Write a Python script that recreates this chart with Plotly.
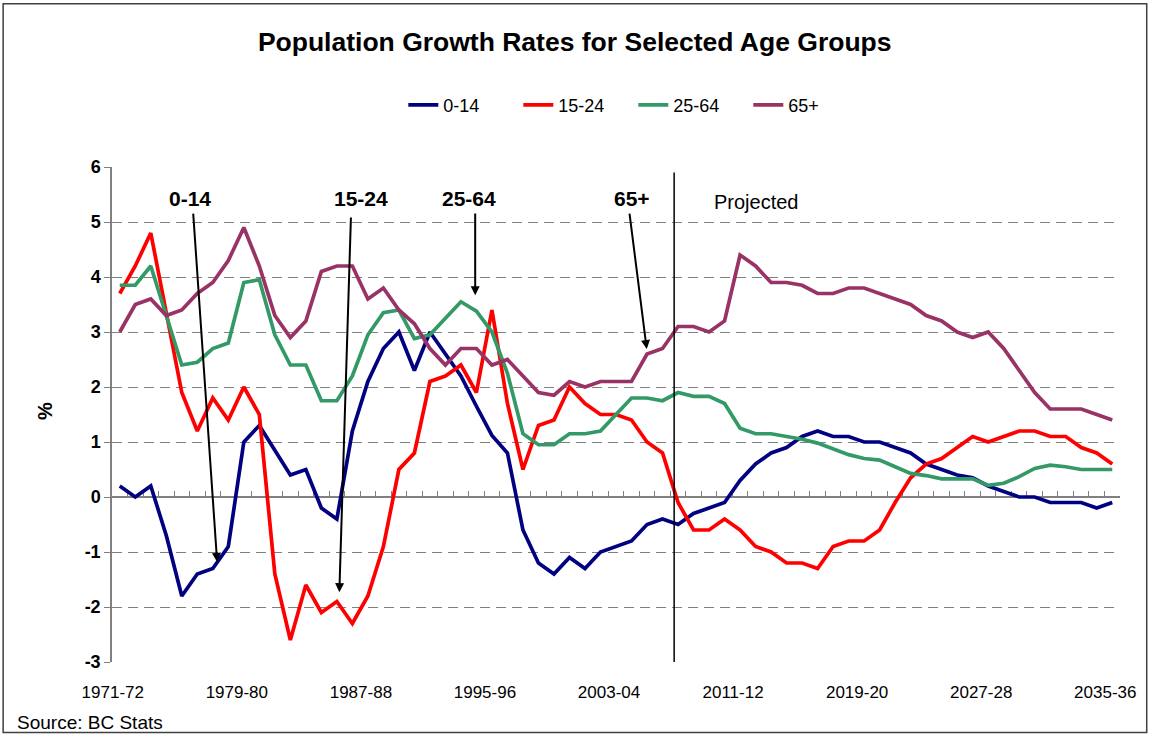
import plotly.graph_objects as go

# ---------------- data ----------------
years = [f"{y}-{str(y + 1)[-2:]}" for y in range(1971, 2036)]

age_0_14 = [0.2, 0.0, 0.2, -0.7, -1.8, -1.4, -1.3, -0.9, 1.0, 1.3,
            0.85, 0.4, 0.5, -0.2, -0.4, 1.2, 2.1, 2.7, 3.0, 2.3,
            3.0, 2.6, 2.2, 1.65, 1.12, 0.8, -0.6, -1.2, -1.4, -1.1,
            -1.3, -1.0, -0.9, -0.8, -0.5, -0.4, -0.5, -0.3, -0.2, -0.1,
            0.3, 0.6, 0.8, 0.9, 1.1, 1.2, 1.1, 1.1, 1.0, 1.0,
            0.9, 0.8, 0.6, 0.5, 0.4, 0.35, 0.2, 0.1, 0.0, 0.0,
            -0.1, -0.1, -0.1, -0.2, -0.1]

age_15_24 = [3.7, 4.2, 4.8, 3.35, 1.9, 1.2, 1.8, 1.4, 2.0, 1.5,
             -1.4, -2.6, -1.6, -2.1, -1.9, -2.3, -1.8, -0.9, 0.5, 0.8,
             2.1, 2.2, 2.4, 1.9, 3.4, 1.7, 0.5, 1.3, 1.4, 2.0,
             1.7, 1.5, 1.5, 1.4, 1.0, 0.8, -0.1, -0.6, -0.6, -0.4,
             -0.6, -0.9, -1.0, -1.2, -1.2, -1.3, -0.9, -0.8, -0.8, -0.6,
             -0.1, 0.35, 0.6, 0.7, 0.9, 1.1, 1.0, 1.1, 1.2, 1.2,
             1.1, 1.1, 0.9, 0.8, 0.6]

age_25_64 = [3.85, 3.85, 4.2, 3.3, 2.4, 2.45, 2.7, 2.8, 3.9, 3.95,
             2.95, 2.4, 2.4, 1.75, 1.75, 2.2, 2.95, 3.35, 3.4, 2.88,
             2.95, 3.25, 3.55, 3.38, 3.0, 2.25, 1.15, 0.95, 0.95, 1.15,
             1.15, 1.2, 1.5, 1.8, 1.8, 1.75, 1.9, 1.83, 1.83, 1.7,
             1.25, 1.15, 1.15, 1.1, 1.05, 0.98, 0.88, 0.77, 0.7, 0.67,
             0.55, 0.43, 0.39, 0.33, 0.33, 0.33, 0.21, 0.25, 0.37, 0.52,
             0.58, 0.55, 0.5, 0.5, 0.5]

age_65_plus = [3.0, 3.5, 3.6, 3.3, 3.4, 3.7, 3.9, 4.3, 4.9, 4.2,
               3.3, 2.9, 3.2, 4.1, 4.2, 4.2, 3.6, 3.8, 3.4, 3.15,
               2.7, 2.4, 2.7, 2.7, 2.4, 2.5, 2.2, 1.9, 1.85, 2.1,
               2.0, 2.1, 2.1, 2.1, 2.6, 2.7, 3.1, 3.1, 3.0, 3.2,
               4.4, 4.2, 3.9, 3.9, 3.85, 3.7, 3.7, 3.8, 3.8, 3.7,
               3.6, 3.5, 3.3, 3.2, 3.0, 2.9, 3.0, 2.7, 2.3, 1.9,
               1.6, 1.6, 1.6, 1.5, 1.4]

series_names = ["0-14", "15-24", "25-64", "65+"]
series_values = [age_0_14, age_15_24, age_25_64, age_65_plus]
series_colors = ["#000080", "#FF0000", "#339966", "#993366"]

y_ticks = [-3, -2, -1, 0, 1, 2, 3, 4, 5, 6]
y_tick_labels = ["-3", "-2", "-1", "0", "1", "2", "3", "4", "5", "6"]

# callout labels: (text, text x-index, text y, arrow tail x, tail y, arrow tip x, tip y)
callouts = [
    ("0-14", 4.54, 5.43, 4.73, 5.18, 6.28, -1.18),
    ("15-24", 15.57, 5.43, 14.91, 5.11, 14.16, -1.73),
    ("25-64", 22.55, 5.43, 22.92, 5.18, 22.92, 3.67),
    ("65+", 33.01, 5.43, 32.86, 5.18, 33.98, 2.69),
]
projection_boundary = 35.75

FONT = "Liberation Sans, Arial, sans-serif"
GRID = "#808080"

x_idx = list(range(len(years)))

fig = go.Figure()
for name, vals, color in zip(series_names, series_values, series_colors):
    fig.add_trace(go.Scatter(
        x=x_idx, y=vals, mode="lines", name=name,
        line=dict(color=color, width=3.7),
        customdata=years,
        hovertemplate="%{customdata}: %{y}%<extra>" + name + "</extra>",
    ))

# dummy trace so the zero-crossing category axis is drawn
fig.add_trace(go.Scatter(x=[0], y=[None], xaxis="x2", showlegend=False,
                         hoverinfo="skip"))

annotations = []
for text, tx, ty, ax, ay, hx, hy in callouts:
    annotations.append(dict(
        x=hx, y=hy, ax=ax, ay=ay, xref="x", yref="y", axref="x", ayref="y",
        text="", showarrow=True, arrowhead=2, arrowsize=0.9, arrowwidth=2,
        arrowcolor="black"))
    annotations.append(dict(
        x=tx, y=ty, xref="x", yref="y", text=f"<b>{text}</b>", showarrow=False,
        font=dict(size=21, family=FONT, color="black")))

annotations.append(dict(x=41.07, y=5.36, xref="x", yref="y", text="Projected",
                        showarrow=False, font=dict(size=20, family=FONT)))
annotations.append(dict(x=-0.08, y=0.508, xref="paper", yref="paper",
                        text="<b>%</b>", textangle=-90, showarrow=False,
                        font=dict(size=20, family=FONT)))
annotations.append(dict(x=-0.096, y=-0.122, xref="paper", yref="paper",
                        xanchor="left", yanchor="middle", text="Source: BC Stats",
                        showarrow=False, font=dict(size=19, family=FONT)))

shapes = [
    dict(type="line", xref="x", yref="y", x0=projection_boundary, x1=projection_boundary,
         y0=-3.06, y1=5.9, line=dict(color="black", width=1.5)),
    dict(type="rect", xref="paper", yref="paper", x0=-0.108, x1=1.0265,
         y0=-0.1426, y1=1.330, line=dict(color="#404040", width=1.5), layer="below"),
]

fig.update_layout(
    width=1161, height=737,
    margin=dict(l=112, r=41, t=167, b=75),
    paper_bgcolor="white", plot_bgcolor="white",
    font=dict(family=FONT, color="black", size=17),
    title=dict(text="<b>Population Growth Rates for Selected Age Groups</b>",
               x=0.495, xref="container", xanchor="center",
               y=0.943, yref="container", yanchor="middle",
               font=dict(size=26.5, family=FONT, color="black")),
    legend=dict(orientation="h", x=0.289, xanchor="left", y=1.125, yanchor="middle",
                font=dict(size=18, family=FONT), bgcolor="rgba(0,0,0,0)",
                entrywidth=70, entrywidthmode="pixels", tracegroupgap=0),
    xaxis=dict(range=[-0.5, len(years) - 0.5], tickvals=x_idx[::8],
               ticktext=years[::8], showgrid=False, showline=False,
               zeroline=False, ticks="", ticklabelstandoff=18,
               ticklabelshift=-7,
               tickfont=dict(size=17, family=FONT)),
    xaxis2=dict(overlaying="x", anchor="free", position=3 / 9, side="bottom",
                range=[-0.5, len(years) - 0.5], showgrid=False, zeroline=False,
                showline=True, linecolor=GRID, linewidth=1.5, ticks="inside",
                ticklen=5, tickcolor=GRID, tickwidth=1.2,
                tickvals=[i + 0.5 for i in range(-1, len(years))],
                showticklabels=False, layer="below traces"),
    yaxis=dict(range=[-3, 6], tickvals=y_ticks,
               ticktext=[f"<b>{t}</b>" for t in y_tick_labels],
               showgrid=True, gridcolor=GRID,
               griddash="10px,6px", gridwidth=1.2, zeroline=False,
               showline=True, linecolor=GRID, linewidth=1.5,
               ticks="outside", ticklen=6, tickcolor=GRID,
               tickfont=dict(size=18, family=FONT), layer="below traces"),
    annotations=annotations,
    shapes=shapes,
    showlegend=True,
)

fig.write_html("out.html", config={"displayModeBar": False},
               post_script="document.body.style.margin='0';document.body.style.padding='0';")
